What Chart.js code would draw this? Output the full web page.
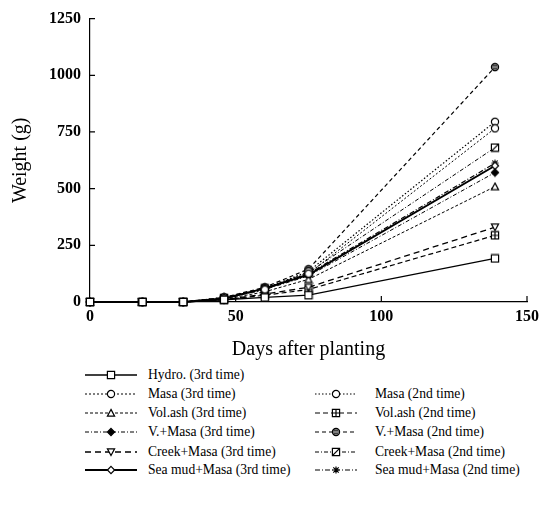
<!DOCTYPE html>
<html>
<head>
<meta charset="utf-8">
<script src="https://cdn.jsdelivr.net/npm/chart.js@4.4.1/dist/chart.umd.min.js"></script>
<style>
  body { margin: 0; background: #fff; font-family: "Liberation Serif", "DejaVu Serif", serif; }
  #wrap { position: absolute; left: 0; top: 0; width: 544px; height: 362px; }
  .item { position: absolute; height: 16px; line-height: 16px; font-size: 13.6px; color: #000; white-space: nowrap; }
  .item canvas { position: absolute; top: 2px; }
  .item span { position: absolute; top: 0; }
</style>
</head>
<body>
<div id="wrap"><canvas id="chart"></canvas></div>
<div id="legend"></div>
<script>
// data
const days = [0, 18, 32, 46, 60, 75, 139];
const hydro3 = [0, 0, 0, 10, 20, 30, 192];
const masa3 = [0, 0, 0, 15, 55, 125, 766];
const volash3 = [0, 0, 0, 12, 45, 100, 509];
const vMasa3 = [0, 0, 0, 15, 55, 115, 571];
const creek3 = [0, 0, 0, 10, 35, 65, 330];
const seaMud3 = [0, 0, 0, 15, 60, 120, 601];
const masa2 = [0, 0, 0, 20, 60, 135, 795];
const volash2 = [0, 0, 0, 10, 30, 55, 294];
const vMasa2 = [0, 0, 0, 20, 65, 145, 1036];
const creek2 = [0, 0, 0, 18, 60, 130, 681];
const seaMud2 = [0, 0, 0, 15, 60, 125, 612];

const labels = [
  'Hydro. (3rd time)', 'Masa (3rd time)', 'Vol.ash  (3rd time)', 'V.+Masa (3rd time)',
  'Creek+Masa  (3rd time)', 'Sea mud+Masa (3rd time)',
  'Masa (2nd time)', 'Vol.ash (2nd time)', 'V.+Masa (2nd time)',
  'Creek+Masa (2nd time)', 'Sea mud+Masa (2nd time)'
];
const values = [hydro3, masa3, volash3, vMasa3, creek3, seaMud3, masa2, volash2, vMasa2, creek2, seaMud2];

// line / marker looks
const looks = [
  { dash: [], w: 1.3, mk: 'square' },
  { dash: [2, 2], w: 1, mk: 'circle' },
  { dash: [3, 2], w: 1, mk: 'triangle' },
  { dash: [4, 2, 1, 2], w: 1, mk: 'diamondF' },
  { dash: [6, 4], w: 1.3, mk: 'triDown' },
  { dash: [], w: 2, mk: 'diamond' },
  { dash: [1.5, 2], w: 1.2, mk: 'circle' },
  { dash: [5, 3], w: 1.2, mk: 'squarePlus' },
  { dash: [4, 3], w: 1.2, mk: 'circleCross' },
  { dash: [4, 2, 1, 2], w: 1, mk: 'squareSlash' },
  { dash: [5, 2, 1, 2], w: 1.2, mk: 'asterisk' }
];

function makeMarker(kind) {
  const c = document.createElement('canvas');
  c.width = 10; c.height = 10;
  const g = c.getContext('2d');
  g.lineWidth = 1.2; g.strokeStyle = '#000'; g.fillStyle = '#fff';
  const m = 5, r = 3.6;
  g.beginPath();
  if (kind === 'square' || kind === 'squarePlus' || kind === 'squareSlash') {
    g.rect(m - r, m - r, 2 * r, 2 * r); g.fill(); g.stroke();
    if (kind === 'squarePlus') { g.beginPath(); g.moveTo(m, m - r); g.lineTo(m, m + r); g.moveTo(m - r, m); g.lineTo(m + r, m); g.stroke(); }
    if (kind === 'squareSlash') { g.beginPath(); g.moveTo(m - r, m + r); g.lineTo(m + r, m - r); g.stroke(); }
  } else if (kind === 'circle' || kind === 'circleCross') {
    g.arc(m, m, r, 0, Math.PI * 2); g.fill(); g.stroke();
    if (kind === 'circleCross') { g.beginPath(); g.moveTo(m - r, m); g.lineTo(m + r, m); g.moveTo(m - r + 1, m - 1.8); g.lineTo(m + r - 1, m - 1.8); g.moveTo(m - r + 1, m + 1.8); g.lineTo(m + r - 1, m + 1.8); g.stroke(); }
  } else if (kind === 'triangle') {
    g.moveTo(m, m - r); g.lineTo(m + r, m + r - 0.5); g.lineTo(m - r, m + r - 0.5); g.closePath(); g.fill(); g.stroke();
  } else if (kind === 'triDown') {
    g.moveTo(m - r, m - r + 0.5); g.lineTo(m + r, m - r + 0.5); g.lineTo(m, m + r); g.closePath(); g.fill(); g.stroke();
  } else if (kind === 'diamond' || kind === 'diamondF') {
    g.moveTo(m, m - r); g.lineTo(m + r, m); g.lineTo(m, m + r); g.lineTo(m - r, m); g.closePath();
    g.fillStyle = kind === 'diamondF' ? '#000' : '#fff'; g.fill(); g.stroke();
  } else if (kind === 'asterisk') {
    g.moveTo(m - r, m); g.lineTo(m + r, m);
    g.moveTo(m - 2.7, m - 2.7); g.lineTo(m + 2.7, m + 2.7);
    g.moveTo(m - 2.7, m + 2.7); g.lineTo(m + 2.7, m - 2.7);
    g.moveTo(m, m - r); g.lineTo(m, m + r); g.stroke();
  }
  return c;
}

const markers = looks.map(l => makeMarker(l.mk));

const datasets = labels.map((name, i) => ({
  label: name,
  data: days.map((d, k) => ({ x: d, y: values[i][k] })),
  borderColor: '#000',
  borderWidth: looks[i].w,
  borderDash: looks[i].dash,
  pointStyle: markers[i],
  pointRadius: 4,
  tension: 0,
  fill: false,
  clip: false
}));

// ticks pointing into the plot
const inwardTicks = {
  id: 'inwardTicks',
  afterDraw(chart) {
    const ctx = chart.ctx, xs = chart.scales.x, ys = chart.scales.y;
    ctx.save();
    ctx.strokeStyle = '#000'; ctx.lineWidth = 1.2;
    ctx.beginPath();
    xs.ticks.forEach(t => { const px = xs.getPixelForValue(t.value); if (t.value > 0) { ctx.moveTo(px, ys.bottom); ctx.lineTo(px, ys.bottom - 6); } });
    ys.ticks.forEach(t => { const py = ys.getPixelForValue(t.value); if (t.value > 0) { ctx.moveTo(xs.left, py); ctx.lineTo(xs.left + 5, py); } });
    ctx.stroke();
    ctx.restore();
  }
};

const serif = '"Liberation Serif", "DejaVu Serif", serif';

new Chart(document.getElementById('chart'), {
  type: 'line',
  data: { datasets: datasets },
  options: {
    responsive: true,
    maintainAspectRatio: false,
    animation: false,
    layout: { padding: { top: 17, right: 16, left: 0, bottom: 0 } },
    plugins: { legend: { display: false }, tooltip: { enabled: false } },
    scales: {
      x: {
        type: 'linear', min: 0, max: 150,
        ticks: { stepSize: 50, color: '#000', padding: 5, font: { family: serif, size: 16, weight: 'bold' }, callback: v => String(v) },
        grid: { display: false, drawTicks: false },
        border: { color: '#000', width: 1.2 },
        title: { display: true, text: 'Days after planting', color: '#000', font: { family: serif, size: 20 }, padding: { top: 4, bottom: 0 } },
        afterFit(s) { s.height = 60; }
      },
      y: {
        min: 0, max: 1250,
        ticks: { stepSize: 250, color: '#000', padding: 9, font: { family: serif, size: 16, weight: 'bold' }, callback: v => String(v) },
        grid: { display: false, drawTicks: false },
        border: { color: '#000', width: 1.2 },
        title: { display: true, text: 'Weight (g)', color: '#000', font: { family: serif, size: 20 }, padding: { top: 9, bottom: 0 } },
        afterFit(s) { s.width = 90; }
      }
    }
  },
  plugins: [inwardTicks]
});

// legend in two columns below the plot
const rowsY = [375, 394, 413, 432, 452, 470];
const slots = [
  [0, 0], [0, 1], [0, 2], [0, 3], [0, 4], [0, 5],
  [1, 1], [1, 2], [1, 3], [1, 4], [1, 5]
];
const cols = [{ x: 85, w: 52, tx: 148 }, { x: 315, w: 42, tx: 375 }];
const legend = document.getElementById('legend');
labels.forEach((name, i) => {
  const col = cols[slots[i][0]];
  const y = rowsY[slots[i][1]];
  const item = document.createElement('div');
  item.className = 'item';
  item.style.left = col.x + 'px';
  item.style.top = (y - 8) + 'px';
  const c = document.createElement('canvas');
  c.width = col.w; c.height = 12;
  const g = c.getContext('2d');
  g.strokeStyle = '#000'; g.lineWidth = looks[i].w; g.setLineDash(looks[i].dash);
  g.beginPath(); g.moveTo(0, 6); g.lineTo(col.w, 6); g.stroke();
  g.drawImage(markers[i], Math.round(col.w / 2 - 5), 1);
  c.style.left = '0px';
  const s = document.createElement('span');
  s.textContent = name;
  s.style.left = (col.tx - col.x) + 'px';
  item.appendChild(c); item.appendChild(s);
  legend.appendChild(item);
});
</script>
</body>
</html>
